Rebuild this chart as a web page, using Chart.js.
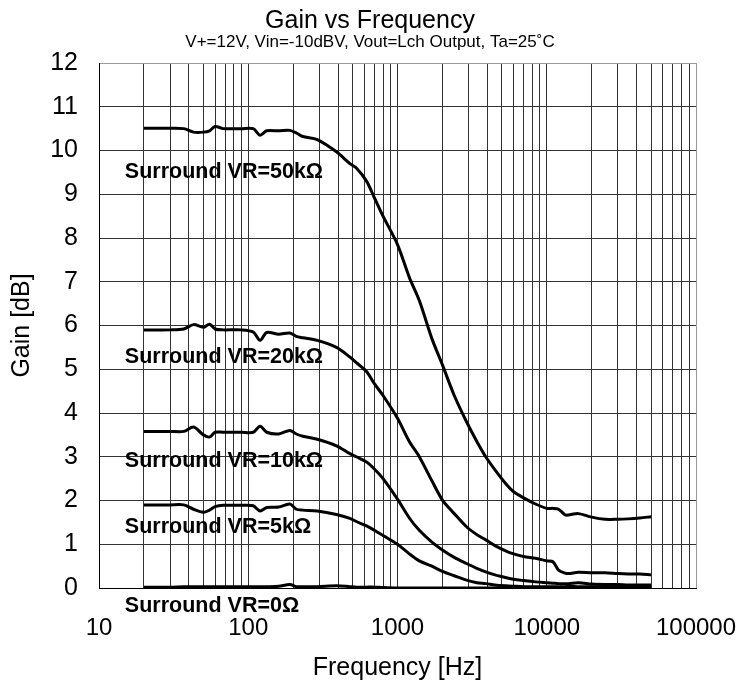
<!DOCTYPE html>
<html>
<head>
<meta charset="utf-8">
<script src="https://cdn.jsdelivr.net/npm/chart.js@4"></script>
<style>
    body { margin: 0; background: #ffffff; }
    #wrap { width: 739px; height: 684px; }
</style>
</head>
<body>
<div id="wrap"><canvas id="myChart" width="739" height="684"></canvas></div>
<script>
// frequency points (Hz), shared by every curve
const freqs = [20, 30, 37, 43, 50, 55, 60, 68, 90, 108, 120, 133, 160, 190, 210, 232, 290, 390, 480, 530,
    620, 700, 800, 1000, 1200, 1400, 1700, 2000, 2400, 2900, 3400, 3900, 4500, 5300, 6000, 7000, 8400,
    10000, 11000, 12000, 13300, 14000, 16300, 20000, 24600, 30000, 35000, 42000, 50000];

// gain in dB for each Surround VR setting
const gain50k = [10.51, 10.51, 10.5, 10.42, 10.42, 10.45, 10.55, 10.5, 10.5, 10.5,
    10.35, 10.45, 10.45, 10.46, 10.4, 10.32, 10.25, 9.97, 9.7, 9.6,
    9.3, 8.92, 8.5, 7.85, 7.1, 6.57, 5.7, 5.1, 4.4, 3.8,
    3.35, 3.0, 2.7, 2.39, 2.2, 2.06, 1.92, 1.82, 1.82, 1.8,
    1.67, 1.67, 1.7, 1.62, 1.57, 1.57, 1.58, 1.6, 1.63];
const gain20k = [5.9, 5.9, 5.92, 6.02, 5.96, 6.03, 5.92, 5.9, 5.9, 5.85,
    5.66, 5.84, 5.8, 5.83, 5.75, 5.72, 5.66, 5.5, 5.28, 5.15,
    4.95, 4.67, 4.4, 3.88, 3.35, 3.0, 2.45, 2.01, 1.7, 1.4,
    1.22, 1.1, 0.97, 0.85, 0.78, 0.72, 0.68, 0.62, 0.6, 0.41,
    0.34, 0.33, 0.36, 0.35, 0.35, 0.33, 0.32, 0.32, 0.3];
const gain10k = [3.58, 3.58, 3.58, 3.68, 3.5, 3.45, 3.56, 3.56, 3.56, 3.56,
    3.7, 3.56, 3.52, 3.6, 3.52, 3.47, 3.4, 3.25, 3.07, 3.0,
    2.88, 2.72, 2.5, 2.03, 1.6, 1.32, 1.05, 0.87, 0.7, 0.56,
    0.45, 0.37, 0.3, 0.24, 0.2, 0.17, 0.14, 0.12, 0.11, 0.1,
    0.1, 0.1, 0.12, 0.09, 0.08, 0.08, 0.07, 0.07, 0.07];
const gain5k = [1.9, 1.9, 1.9, 1.8, 1.73, 1.78, 1.86, 1.89, 1.89, 1.88,
    1.76, 1.84, 1.85, 1.92, 1.8, 1.78, 1.76, 1.68, 1.59, 1.52,
    1.42, 1.32, 1.2, 1.0, 0.78, 0.62, 0.5, 0.38, 0.28, 0.18,
    0.12, 0.1, 0.07, 0.05, 0.04, 0.03, 0.03, 0.03, 0.03, 0.03,
    0.03, 0.04, 0.03, 0.03, 0.03, 0.03, 0.03, 0.03, 0.03];
const gain0 = [0.02, 0.02, 0.03, 0.03, 0.03, 0.03, 0.03, 0.03, 0.03, 0.03,
    0.03, 0.03, 0.04, 0.08, 0.03, 0.03, 0.03, 0.05, 0.03, 0.02,
    0.02, 0.02, 0.01, 0, 0, 0, 0, 0, 0, 0,
    0, 0, 0, 0, 0, 0, 0, 0, 0, 0,
    0, 0, 0, 0, 0, 0, 0, 0, 0];

// curve labels: text, frequency, gain at the text baseline
const labelTexts = ['Surround VR=50k\u03A9', 'Surround VR=20k\u03A9', 'Surround VR=10k\u03A9', 'Surround VR=5k\u03A9', 'Surround VR=0\u03A9'];
const labelFreqs = [14.9, 14.9, 14.9, 14.9, 14.9];
const labelGains = [9.37, 5.14, 2.77, 1.26, -0.55];

const xTicks = [];
for (let d = 10; d <= 100000; d *= 10) {
    for (let m = 1; m <= 9; m++) {
        if (d * m <= 100000) xTicks.push(d * m);
    }
}

function toPoints(values) {
    return values.map((v, i) => ({ x: freqs[i], y: v }));
}

const curveLabels = {
    id: 'curveLabels',
    afterDatasetsDraw(chart) {
        const c = chart.ctx;
        const xs = chart.scales.x;
        const ys = chart.scales.y;
        c.save();
        c.font = 'bold 21.5px "Liberation Sans", Arial, sans-serif';
        c.fillStyle = '#000000';
        c.textAlign = 'left';
        c.textBaseline = 'alphabetic';
        labelTexts.forEach((t, i) => {
            c.fillText(t, xs.getPixelForValue(labelFreqs[i]), ys.getPixelForValue(labelGains[i]));
        });
        c.restore();
    }
};

const lineStyle = {
    borderColor: '#000000',
    borderWidth: 3,
    pointRadius: 0,
    tension: 0.3,
    fill: false
};

const fontFamily = '"Liberation Sans", Arial, sans-serif';

var ctx = document.getElementById('myChart');
var myChart = new Chart(ctx, {
    type: 'line',
    data: {
        datasets: [
            { label: '50k', data: toPoints(gain50k), ...lineStyle },
            { label: '20k', data: toPoints(gain20k), ...lineStyle },
            { label: '10k', data: toPoints(gain10k), ...lineStyle },
            { label: '5k', data: toPoints(gain5k), ...lineStyle },
            { label: '0', data: toPoints(gain0), ...lineStyle }
        ]
    },
    plugins: [curveLabels],
    options: {
        responsive: false,
        animation: false,
        layout: {
            // left padding shifts the title centre to where the original has it
            padding: { left: 44, right: 43, top: 0, bottom: 0 }
        },
        plugins: {
            legend: { display: false },
            tooltip: { enabled: false },
            title: {
                display: true,
                text: 'Gain vs Frequency',
                color: '#000000',
                font: { family: fontFamily, size: 25, weight: 'normal' },
                padding: { top: 6, bottom: -4 }
            },
            subtitle: {
                display: true,
                text: 'V+=12V, Vin=-10dBV, Vout=Lch Output, Ta=25\u02DAC',
                color: '#000000',
                font: { family: fontFamily, size: 17 },
                padding: { top: 0, bottom: 10.6 }
            }
        },
        scales: {
            x: {
                type: 'logarithmic',
                min: 10,
                max: 100000,
                afterBuildTicks: (scale) => {
                    scale.ticks = xTicks.map(v => ({ value: v }));
                },
                afterFit: (scale) => {
                    scale.height = 96;
                    scale.paddingLeft = 0;
                    scale.paddingRight = 0;
                },
                border: { color: '#000000', width: 1 },
                grid: {
                    drawTicks: false,
                    color: (c) => (c.tick && c.tick.value === 100000) ? '#999999' : '#333333'
                },
                ticks: {
                    autoSkip: false,
                    maxRotation: 0,
                    padding: 26,
                    color: '#000000',
                    font: { family: fontFamily, size: 24 },
                    callback: (v) => {
                        const lg = Math.log10(v);
                        return Math.abs(lg - Math.round(lg)) < 1e-9 ? String(v) : '';
                    }
                },
                title: {
                    display: true,
                    text: 'Frequency [Hz]',
                    color: '#000000',
                    font: { family: fontFamily, size: 25 },
                    padding: { top: 0, bottom: 1 }
                }
            },
            y: {
                min: 0,
                max: 12,
                afterFit: (scale) => {
                    scale.width = 55;
                },
                border: { color: '#000000', width: 1 },
                grid: {
                    drawTicks: false,
                    color: (c) => (c.tick && c.tick.value === 12) ? '#999999' : '#333333'
                },
                ticks: {
                    stepSize: 1,
                    padding: 21,
                    color: '#000000',
                    font: { family: fontFamily, size: 25 }
                },
                title: {
                    display: true,
                    text: 'Gain [dB]',
                    color: '#000000',
                    font: { family: fontFamily, size: 25 },
                    padding: { top: -37, bottom: 0 }
                }
            }
        }
    }
});
</script>
</body>
</html>
